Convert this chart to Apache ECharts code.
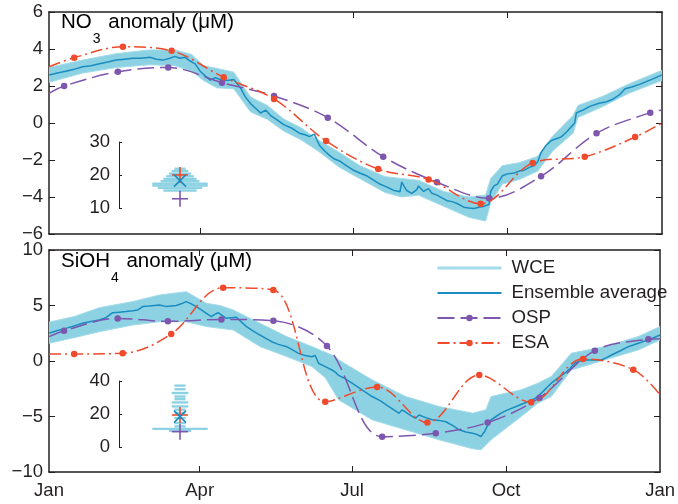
<!DOCTYPE html>
<html>
<head>
<meta charset="utf-8">
<script src="https://cdn.jsdelivr.net/npm/echarts@6/dist/echarts.min.js"></script>
<style>
html,body{margin:0;padding:0;background:#fff;}
#chart{width:678px;height:504px;}
</style>
</head>
<body>
<div id="chart"></div>
<script>
// ---- Month ticks (day of year) ----
const monthTickDays = [0, 90, 181, 273, 365];
const monthTickLabels = ['Jan', 'Apr', 'Jul', 'Oct', 'Jan'];

// ---- NO3 anomaly (uM) ----
const no3Average = [[0,2.6],[5,2.7],[10,2.8],[15,2.9],[20,3.04],[25,3.1],[30,3.2],[35,3.3],[40,3.4],[45,3.45],[50,3.5],[55,3.5],[60,3.55],[64,3.45],[68,3.4],[72,3.5],[75,3.6],[78,3.5],[81,3.55],[84,3.35],[87,3.2],[90,2.8],[93,2.55],[96,2.32],[99,2.45],[102,2.35],[106,2.3],[110,2.35],[114,1.9],[117,1.4],[120,1.05],[123,0.8],[126,0.54],[129,0.7],[132,0.4],[136,0.15],[140,-0.1],[145,-0.3],[149,-0.55],[153,-0.65],[155,-0.74],[158,-0.6],[161,-1.2],[164,-1.5],[167,-1.75],[170,-1.95],[173,-2.05],[177,-2.3],[181,-2.54],[185,-2.7],[189,-2.85],[193,-3.08],[197,-3.3],[201,-3.45],[205,-3.63],[209,-3.72],[210,-3.2],[213,-3.65],[216,-3.8],[219,-3.6],[220,-3.4],[223,-3.7],[226,-3.55],[228,-3.8],[231,-3.9],[234,-4.05],[237,-4.2],[240,-4.25],[243,-4.35],[247,-4.55],[250,-4.6],[253,-4.62],[256,-4.55],[259,-4.5],[262,-4.4],[263,-3.7],[265,-3.4],[267,-3.3],[270,-2.85],[273,-2.75],[277,-2.7],[280,-2.6],[283,-2.55],[286,-2.4],[289,-2.3],[291,-2.1],[293,-1.6],[296,-1.2],[299,-0.95],[302,-0.85],[305,-0.75],[308,-0.5],[311,-0.2],[313,0.0],[314,0.55],[318,0.7],[322,0.9],[327,1.05],[332,1.15],[336,1.3],[340,1.55],[343,1.85],[347,1.95],[352,2.1],[356,2.25],[360,2.4],[365,2.6]];
const no3WceUpper = [[0,3.0],[20,3.4],[40,3.75],[60,3.95],[75,3.95],[85,3.7],[92,3.1],[100,2.95],[110,2.75],[120,1.4],[130,0.95],[140,0.2],[150,-0.25],[160,-0.9],[173,-1.6],[185,-2.3],[200,-2.9],[210,-3.0],[220,-3.1],[235,-3.7],[250,-4.0],[260,-3.9],[263,-3.0],[270,-2.3],[280,-2.15],[291,-1.8],[300,-0.7],[312,0.4],[315,0.95],[330,1.45],[345,2.1],[365,2.85]];
const no3WceLower = [[0,2.2],[20,2.7],[40,3.0],[60,3.15],[75,3.1],[85,2.8],[92,2.3],[100,1.9],[110,1.85],[120,0.6],[130,0.2],[140,-0.45],[150,-0.9],[160,-1.5],[173,-2.4],[185,-3.0],[200,-3.75],[210,-4.0],[220,-3.9],[235,-4.5],[250,-5.1],[260,-5.3],[263,-4.3],[270,-3.3],[280,-3.05],[291,-2.6],[300,-1.5],[312,-0.55],[315,0.3],[330,0.9],[345,1.6],[365,2.3]];
const ospDays = [9, 41, 71, 103, 134, 166, 199, 231, 262, 293, 326, 358];
const esaDays = [15, 44, 73, 104, 134, 165, 196, 226, 257, 288, 319, 349];
const no3Osp = [2.0, 2.77, 3.0, 2.18, 1.46, 0.29, -1.82, -3.2, -4.07, -2.88, -0.56, 0.56];
const no3OspEnds = [1.6, 0.7];
const no3Esa = [3.53, 4.12, 3.9, 2.47, 1.3, -0.97, -2.49, -3.05, -4.36, -2.16, -1.82, -0.76];
const no3EsaEnds = [3.04, 0.0];

// ---- SiOH4 anomaly (uM) ----
const siAverage = [[0,2.5],[5,2.75],[10,2.94],[15,3.15],[20,3.4],[25,3.55],[30,3.7],[34,3.9],[38,4.35],[42,4.4],[46,4.45],[50,4.53],[53,4.6],[56,4.9],[60,4.95],[63,5.0],[66,5.05],[70,4.9],[73,4.95],[76,5.0],[79,5.15],[82,5.35],[85,5.15],[88,4.9],[91,4.6],[94,4.3],[97,4.0],[99,4.2],[101,4.35],[104,4.05],[106,3.85],[109,3.9],[112,3.94],[115,3.5],[118,3.1],[122,2.7],[126,2.34],[130,2.0],[133,1.74],[137,1.5],[142,1.29],[146,0.95],[149,0.69],[153,0.5],[157,0.39],[159,0.5],[161,-0.2],[165,-0.5],[169,-0.81],[171,-1.0],[173,-1.3],[177,-1.6],[181,-2.0],[185,-2.4],[189,-2.8],[193,-3.2],[198,-3.6],[203,-4.1],[206,-4.4],[209,-4.7],[211,-4.4],[215,-4.8],[219,-5.16],[221,-4.86],[225,-5.1],[229,-5.3],[233,-5.35],[237,-5.47],[241,-5.8],[245,-6.2],[249,-6.4],[253,-6.5],[256,-6.65],[258,-6.8],[260,-6.4],[262,-5.8],[264,-5.3],[267,-5.0],[270,-4.7],[274,-4.4],[279,-4.1],[283,-3.85],[286,-3.67],[290,-3.4],[292,-3.2],[296,-2.6],[300,-2.0],[304,-1.55],[308,-1.1],[311,-0.7],[314,-0.2],[317,0.0],[320,0.09],[325,0.1],[330,0.09],[333,0.3],[336,0.54],[341,0.9],[346,1.29],[352,1.6],[358,1.9],[365,2.34]];
const siWceUpper = [[0,3.5],[15,4.0],[30,4.8],[50,5.35],[66,5.95],[82,6.25],[94,5.2],[102,5.0],[110,4.6],[126,3.4],[142,2.2],[157,1.3],[171,0.4],[173,0.1],[193,-1.7],[213,-3.2],[233,-4.1],[253,-4.7],[261,-4.4],[264,-3.2],[282,-2.6],[292,-2.0],[300,-1.4],[312,0.7],[332,1.3],[352,2.2],[365,3.1]];
const siWceLower = [[0,1.6],[15,2.1],[30,2.64],[50,3.24],[66,3.54],[82,3.54],[94,3.1],[110,2.8],[126,1.3],[142,0.4],[157,-0.5],[165,-1.5],[173,-3.5],[193,-5.3],[213,-6.2],[233,-7.1],[253,-7.9],[258,-8.0],[264,-7.1],[282,-5.0],[292,-3.8],[300,-3.2],[312,-0.8],[332,0.1],[352,1.0],[365,1.9]];
const siOsp = [2.73, 3.84, 3.57, 3.75, 3.63, 1.35, -6.82, -6.5, -5.55, -3.3, 0.93, 1.95];
const siOspEnds = [2.19, 2.0];
const siEsa = [0.63, 0.69, 2.43, 6.6, 6.4, -3.67, -2.34, -5.55, -1.26, -3.72, 0.18, -0.78];
const siEsaEnds = [0.63, -3.06];

// ---- Seasonal amplitude insets (uM): ensemble histogram + single values ----
const no3AmpValues = [21.9, 21.2, 20.4, 19.6, 18.8, 18.1, 17.4, 16.8, 16.1, 15.3];
const no3AmpCounts = [2, 3, 4, 5, 6, 7, 10, 10, 8, 6];
const no3AmpAverage = 18.3, no3AmpOsp = 12.8, no3AmpEsa = 20.0;
const siAmpValues = [37.2, 35.0, 32.7, 30.6, 29.0, 27.0, 24.6, 22.6, 20.6, 17.5, 14.5, 12.5, 11.0, 9.8];
const siAmpCounts = [2, 2, 3, 2, 2, 3, 3, 2, 2, 2, 2, 2, 10, 4];
const siAmpAverage = 18.4, siAmpOsp = 9.3, siAmpEsa = 19.4;

// ---- Styling ----
const FONT = "'Liberation Sans', Arial, Helvetica, sans-serif";
const INK = '#231f20';
const BAND = '#8dd2e3';
const WCE_LINE = '#a3dbe9';
const AVG = '#1a8cbf';
const OSP = '#7d56ad';
const ESA = '#ef4a2c';
const OSP_DASH = [17, 6];
const ESA_DASH = [12, 4, 2, 4];

const minus = v => String(v).replace('-', '\u2212');

function withEnds(days, vals, ends) {
  const d = [{ value: [0, ends[0]], symbol: 'none' }];
  days.forEach((x, i) => d.push([x, vals[i]]));
  d.push({ value: [365, ends[1]], symbol: 'none' });
  return d;
}

function bandSeries(axis, upper, lower) {
  return {
    type: 'custom', xAxisIndex: axis, yAxisIndex: axis, z: 1, silent: true,
    data: [[0, 0]],
    renderItem: function (params, api) {
      const pts = upper.map(p => api.coord(p))
        .concat(lower.slice().reverse().map(p => api.coord(p)));
      return { type: 'polygon', shape: { points: pts }, style: { fill: BAND } };
    }
  };
}

function lineSeries(name, axis, data, color, width, z, extra) {
  return Object.assign({
    name: name, type: 'line', xAxisIndex: axis, yAxisIndex: axis,
    data: data, z: z, symbol: 'none', showSymbol: true,
    lineStyle: { color: color, width: width },
    itemStyle: { color: color },
    emphasis: { disabled: true }
  }, extra || {});
}

function markedSeries(name, axis, data, color, dash, z) {
  return lineSeries(name, axis, data, color, 1.5, z, {
    symbol: 'circle', symbolSize: 6.5, smooth: 0.35,
    lineStyle: { color: color, width: 1.5, type: dash }
  });
}

function histSeries(axis, values, counts) {
  return {
    type: 'custom', xAxisIndex: axis, yAxisIndex: axis, z: 6, silent: true,
    data: values.map((v, i) => [counts[i], v]),
    renderItem: function (params, api) {
      const c = api.value(0), v = api.value(1);
      const a = api.coord([-c, v]), b = api.coord([c, v]);
      return { type: 'rect', shape: { x: a[0], y: a[1] - 1.2, width: b[0] - a[0], height: 2.4 }, style: { fill: BAND } };
    }
  };
}

function markerSeries(axis, value, kind, color, size, z) {
  return {
    type: 'custom', xAxisIndex: axis, yAxisIndex: axis, z: z, silent: true,
    data: [[0, value]],
    renderItem: function (params, api) {
      const p = api.coord([api.value(0), api.value(1)]);
      const h = size / 2;
      const st = { stroke: color, lineWidth: 1.6 };
      const segs = kind === 'plus'
        ? [[p[0] - h, p[1], p[0] + h, p[1]], [p[0], p[1] - h, p[0], p[1] + h]]
        : [[p[0] - h, p[1] - h, p[0] + h, p[1] + h], [p[0] - h, p[1] + h, p[0] + h, p[1] - h]];
      return {
        type: 'group',
        children: segs.map(s => ({ type: 'line', shape: { x1: s[0], y1: s[1], x2: s[2], y2: s[3] }, style: st }))
      };
    }
  };
}

// ---- Axes ----
const frameLine = { show: true, onZero: false, lineStyle: { color: INK, width: 1.5 } };
const innerTick = (vals) => ({ show: true, inside: true, length: 6, lineStyle: { color: INK, width: 1 }, customValues: vals });
const monthInner = monthTickDays.slice(1, -1);

function timeAxis(grid, position, labels) {
  return {
    type: 'value', gridIndex: grid, position: position, min: 0, max: 365,
    axisLine: frameLine, splitLine: { show: false },
    axisTick: innerTick(monthInner),
    axisLabel: labels ? {
      show: true, customValues: monthTickDays, margin: 9,
      formatter: v => monthTickLabels[monthTickDays.indexOf(v)],
      color: INK, fontSize: 18.5, fontFamily: FONT, showMinLabel: true, showMaxLabel: true
    } : { show: false }
  };
}

function valueAxis(grid, position, min, max, interval, labels) {
  return {
    type: 'value', gridIndex: grid, position: position, min: min, max: max, interval: interval,
    axisLine: frameLine, splitLine: { show: false },
    axisTick: { show: true, inside: true, length: 6, lineStyle: { color: INK, width: 1 } },
    axisLabel: labels ? { show: true, margin: 6, formatter: minus, color: INK, fontSize: 18.5, fontFamily: FONT } : { show: false }
  };
}

function insetYAxis(grid, min, max, interval) {
  return {
    type: 'value', gridIndex: grid, min: min, max: max, interval: interval,
    axisLine: { show: true, onZero: false, lineStyle: { color: INK, width: 1 } }, splitLine: { show: false },
    axisTick: { show: true, inside: true, length: 3, lineStyle: { color: INK, width: 1 } },
    axisLabel: { show: true, margin: 9, color: INK, fontSize: 18.5, fontFamily: FONT }
  };
}

function insetXAxis(grid) {
  return { type: 'value', gridIndex: grid, min: -22, max: 22, show: false };
}

const titleRich = {
  n: { fontSize: 20.5, lineHeight: 20, verticalAlign: 'top', fontFamily: FONT, color: INK },
  s: { fontSize: 14, lineHeight: 14, verticalAlign: 'top', padding: [20, 2, 0, 1], fontFamily: FONT, color: INK }
};

const option = {
  animation: false,
  backgroundColor: '#fff',
  grid: [
    { left: 49, top: 12, width: 613, height: 222 },
    { left: 49, top: 250, width: 613, height: 222 },
    { left: 119, top: 142, width: 122, height: 66 },
    { left: 119, top: 381, width: 122, height: 66 }
  ],
  xAxis: [
    timeAxis(0, 'bottom', false),
    timeAxis(1, 'bottom', true),
    insetXAxis(2),
    insetXAxis(3),
    timeAxis(0, 'top', false),
    timeAxis(1, 'top', false)
  ],
  yAxis: [
    valueAxis(0, 'left', -6, 6, 2, true),
    valueAxis(1, 'left', -10, 10, 5, true),
    insetYAxis(2, 10, 30, 10),
    insetYAxis(3, 0, 40, 20),
    valueAxis(0, 'right', -6, 6, 2, false),
    valueAxis(1, 'right', -10, 10, 5, false)
  ],
  legend: {
    orient: 'vertical', left: 431, top: 253,
    itemWidth: 64, itemHeight: 8, itemGap: 5,
    textStyle: { color: INK, fontSize: 18.7, fontFamily: FONT, lineHeight: 20, padding: [0, 0, 0, 5] },
    data: [
      { name: 'WCE', lineStyle: { width: 3, color: WCE_LINE }, itemStyle: { opacity: 0 } },
      { name: 'Ensemble average', itemStyle: { opacity: 0 } },
      'OSP', 'ESA'
    ],
    selectedMode: false
  },
  graphic: [
    { type: 'text', left: 61, top: 12, z: 100,
      style: { text: '{n|NO}{s|3}{n| anomaly (\u03bcM)}', rich: titleRich } },
    { type: 'text', left: 61, top: 251, z: 100,
      style: { text: '{n|SiOH}{s|4}{n| anomaly (\u03bcM)}', rich: titleRich } }
  ],
  series: [
    // NO3 panel
    bandSeries(0, no3WceUpper, no3WceLower),
    lineSeries('WCE', 0, no3WceUpper, WCE_LINE, 1, 2),
    lineSeries('WCE', 0, no3WceLower, WCE_LINE, 1, 2),
    lineSeries('Ensemble average', 0, no3Average, AVG, 1.5, 3),
    markedSeries('OSP', 0, withEnds(ospDays, no3Osp, no3OspEnds), OSP, OSP_DASH, 4),
    markedSeries('ESA', 0, withEnds(esaDays, no3Esa, no3EsaEnds), ESA, ESA_DASH, 5),
    // SiOH4 panel
    bandSeries(1, siWceUpper, siWceLower),
    lineSeries('WCE', 1, siWceUpper, WCE_LINE, 1, 2),
    lineSeries('WCE', 1, siWceLower, WCE_LINE, 1, 2),
    lineSeries('Ensemble average', 1, siAverage, AVG, 1.5, 3),
    markedSeries('OSP', 1, withEnds(ospDays, siOsp, siOspEnds), OSP, OSP_DASH, 4),
    markedSeries('ESA', 1, withEnds(esaDays, siEsa, siEsaEnds), ESA, ESA_DASH, 5),
    // amplitude insets
    histSeries(2, no3AmpValues, no3AmpCounts),
    markerSeries(2, no3AmpOsp, 'plus', OSP, 16, 7),
    markerSeries(2, no3AmpEsa, 'plus', ESA, 16, 8),
    markerSeries(2, no3AmpAverage, 'cross', AVG, 12, 9),
    histSeries(3, siAmpValues, siAmpCounts),
    markerSeries(3, siAmpOsp, 'plus', OSP, 16, 7),
    markerSeries(3, siAmpEsa, 'plus', ESA, 16, 8),
    markerSeries(3, siAmpAverage, 'cross', AVG, 12, 9)
  ]
};

const chart = echarts.init(document.getElementById('chart'), null, { renderer: 'canvas' });
chart.setOption(option);
</script>
</body>
</html>
